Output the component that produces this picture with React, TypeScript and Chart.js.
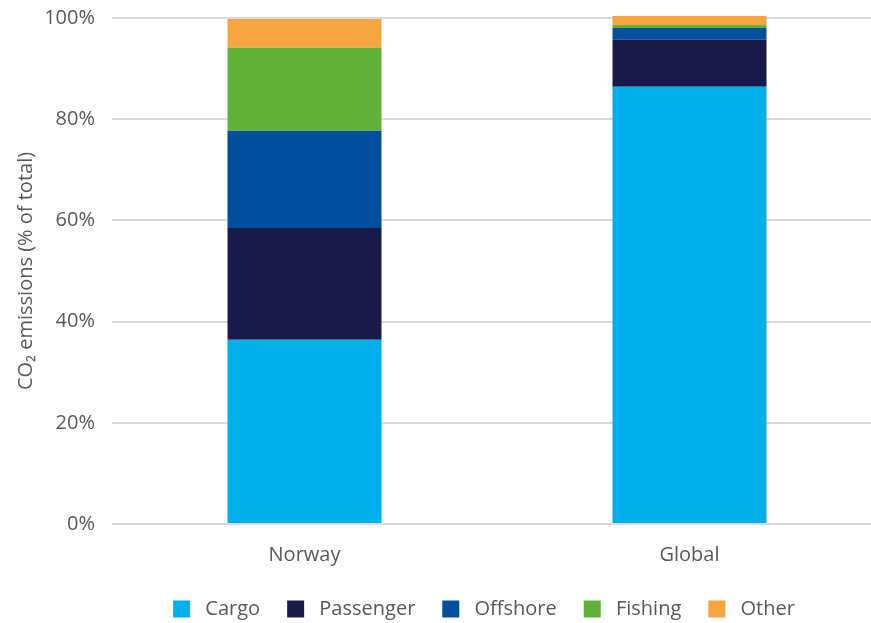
import React, { useEffect, useRef } from "react";
import { Chart, registerables } from "chart.js";

Chart.register(...registerables);

const categories = ["Norway", "Global"];
const cargo = [36.4, 86.4];
const passenger = [22.1, 9.3];
const offshore = [19.2, 2.3];
const fishing = [16.4, 0.6];
const other = [5.7, 1.8];
const yTicks = [0, 20, 40, 60, 80, 100];

const FONT = "'Open Sans', Lato, sans-serif";
const TEXT = "#595959";

const legendShift = {
  id: "legendShift",
  afterLayout(chart: any) {
    const lg = chart.legend;
    if (!lg) return;
    const dx = 484 - (lg.left + lg.right) / 2;
    lg.left += dx;
    lg.right += dx;
    lg.top += 2;
    lg.bottom += 2;
  },
};

export default function App() {
  const ref = useRef<HTMLCanvasElement | null>(null);
  useEffect(() => {
    if (!ref.current) return;
    const ds = (label: string, data: number[], color: string) => ({
      label,
      data,
      backgroundColor: color,
      borderWidth: 0,
      barPercentage: 0.4,
      categoryPercentage: 1,
      clip: false as any,
    });
    const defaultLabels = Chart.defaults.plugins.legend.labels.generateLabels;
    const chart = new Chart(ref.current, {
      type: "bar",
      data: {
        labels: categories,
        datasets: [
          ds("Cargo", cargo, "#00B0EA"),
          ds("Passenger", passenger, "#19194A"),
          ds("Offshore", offshore, "#00509E"),
          ds("Fishing", fishing, "#62B23A"),
          ds("Other", other, "#F5A641"),
        ],
      },
      options: {
        responsive: false,
        animation: false,
        layout: { padding: { top: 18, left: 0, right: 0, bottom: 0 } },
        plugins: {
          legend: {
            position: "bottom",
            maxHeight: 53,
            labels: {
              boxWidth: 17,
              boxHeight: 17,
              padding: 27,
              color: TEXT,
              font: { family: FONT, size: 20 },
              generateLabels: (c: any) =>
                defaultLabels(c).map((l: any) => ({ ...l, text: " " + l.text })),
            },
          },
          tooltip: { enabled: false },
        },
        scales: {
          x: {
            stacked: true,
            grid: { display: false },
            border: { display: false },
            ticks: { color: TEXT, font: { family: FONT, size: 20 }, padding: 11 },
            afterFit(scale: any) {
              scale.height = 46;
            },
          },
          y: {
            stacked: true,
            min: 0,
            max: 100,
            afterBuildTicks(scale: any) {
              scale.ticks = yTicks.map((v) => ({ value: v }));
            },
            grid: { color: "#d9d9d9", lineWidth: 2, drawTicks: false },
            border: { display: false },
            ticks: {
              color: TEXT,
              font: { family: FONT, size: 20 },
              padding: 17,
              callback: (v: any) => v + "%",
            },
            title: {
              display: true,
              text: "CO₂ emissions (% of total)",
              color: TEXT,
              font: { family: FONT, size: 20 },
              padding: { top: 14, bottom: 0 },
            },
            afterFit(scale: any) {
              scale.width = 112;
              scale.paddingTop = 0;
              scale.paddingBottom = 0;
            },
          },
        },
      },
      plugins: [legendShift],
    });
    return () => chart.destroy();
  }, []);
  return (
    <div
      style={{
        position: "fixed",
        left: 0,
        top: 0,
        width: 871,
        height: 623,
        overflow: "hidden",
        background: "#fff",
      }}
    >
      <canvas ref={ref} width={882} height={623} style={{ display: "block" }} />
    </div>
  );
}
